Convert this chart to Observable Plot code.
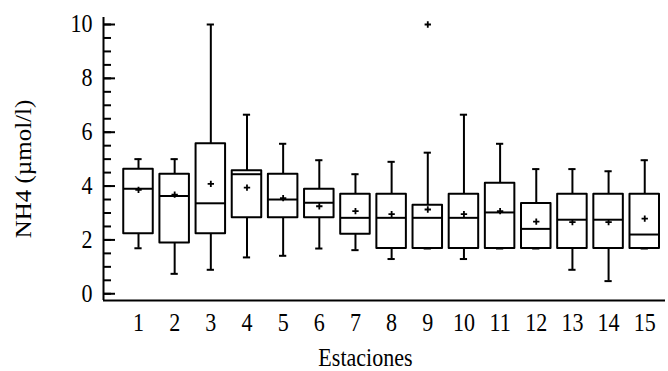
<!DOCTYPE html>
<html>
<head>
<meta charset="utf-8">
<script src="https://cdn.jsdelivr.net/npm/d3@7"></script>
<script src="https://cdn.jsdelivr.net/npm/@observablehq/plot@0.6"></script>
<style>
  html, body { margin: 0; padding: 0; background: #fff; }
  #chart svg { display: block; }
  #chart svg text { font-family: "Liberation Serif", serif; }
</style>
</head>
<body>
<div id="chart"></div>
<script>
// NH4 por estación: cuartiles, bigotes, media y valores atípicos
const estaciones = [1, 2, 3, 4, 5, 6, 7, 8, 9, 10, 11, 12, 13, 14, 15];
const bigoteInf  = [1.69, 0.74, 0.89, 1.35, 1.41, 1.68, 1.62, 1.29, 1.68, 1.29, 1.68, 1.68, 0.89, 0.47, 1.68];
const cuartil1   = [2.23, 1.89, 2.23, 2.82, 2.82, 2.82, 2.21, 1.68, 1.68, 1.68, 1.68, 1.68, 1.68, 1.68, 1.68];
const mediana    = [3.90, 3.63, 3.36, 4.44, 3.50, 3.38, 2.82, 2.82, 2.82, 2.82, 3.02, 2.41, 2.75, 2.75, 2.20];
const cuartil3   = [4.62, 4.44, 5.57, 4.57, 4.44, 3.88, 3.70, 3.70, 3.29, 3.70, 4.10, 3.35, 3.70, 3.70, 3.70];
const bigoteSup  = [5.00, 5.00, 10.0, 6.65, 5.57, 4.96, 4.44, 4.90, 5.24, 6.65, 5.57, 4.63, 4.63, 4.55, 4.96];
const media      = [3.86, 3.68, 4.08, 3.94, 3.55, 3.25, 3.07, 2.96, 3.13, 2.96, 3.07, 2.68, 2.66, 2.66, 2.79];
const atipicoEstacion = [9];
const atipicoValor    = [10.0];

const ticksY = [0, 2, 4, 6, 8, 10];
const ticksYMenores = d3.range(0, 10.01, 0.5);

const xDominio = [0.032, 15.574];
const yDominio = [-0.25, 10.26];
const medioAncho = 0.408;   // half box width, in station units
const medioTope = 0.1;      // half whisker-cap width

const filas = estaciones.map((e, i) => ({
  estacion: e,
  min: bigoteInf[i], q1: cuartil1[i], med: mediana[i],
  q3: cuartil3[i], max: bigoteSup[i], media: media[i]
}));
const atipicos = atipicoEstacion.map((e, i) => ({estacion: e, valor: atipicoValor[i]}));

const linea = {stroke: "black", strokeWidth: 2};

const chart = Plot.plot({
  width: 668,
  height: 371,
  marginLeft: 103,
  marginRight: 3,
  marginTop: 17,
  marginBottom: 71,
  style: "font-family: 'Liberation Serif', serif; font-size: 24.5px; color: black; background: white;",
  x: {type: "linear", domain: xDominio},
  y: {domain: yDominio},
  marks: [
    // frame lines
    Plot.ruleX([xDominio[0]], linea),
    Plot.ruleY([yDominio[0]], linea),
    // inward ticks on the y axis
    Plot.axisY({ticks: ticksYMenores, tickSize: -8, tickFormat: () => "", strokeWidth: 2, label: null}),
    Plot.axisY({ticks: ticksY, tickSize: -12, tickFormat: () => "", strokeWidth: 2, label: null}),
    Plot.axisY({ticks: ticksY, tickSize: 0, tickPadding: 11, fontSize: 24.5, label: null}),
    Plot.axisX({ticks: estaciones, tickSize: 0, tickPadding: 13, fontSize: 24.5, tickFormat: d => String(d), label: null}),
    // whiskers
    Plot.ruleX(filas, {x: "estacion", y1: "min", y2: "q1", ...linea}),
    Plot.ruleX(filas, {x: "estacion", y1: "q3", y2: "max", ...linea}),
    Plot.ruleY(filas, {y: "min", x1: d => d.estacion - medioTope, x2: d => d.estacion + medioTope, ...linea}),
    Plot.ruleY(filas, {y: "max", x1: d => d.estacion - medioTope, x2: d => d.estacion + medioTope, ...linea}),
    // boxes
    Plot.rect(filas, {x1: d => d.estacion - medioAncho, x2: d => d.estacion + medioAncho, y1: "q1", y2: "q3",
      fill: "none", stroke: "black", strokeWidth: 2, strokeLinejoin: "round"}),
    Plot.ruleY(filas, {y: "med", x1: d => d.estacion - medioAncho, x2: d => d.estacion + medioAncho, ...linea}),
    // means and outliers
    Plot.dot(filas, {x: "estacion", y: "media", symbol: "plus", r: 2.2, stroke: "black", strokeWidth: 1.8}),
    Plot.dot(atipicos, {x: "estacion", y: "valor", symbol: "plus", r: 2.2, stroke: "black", strokeWidth: 1.8}),
    // axis titles
    Plot.text(["Estaciones"], {frameAnchor: "bottom", textAnchor: "middle", dx: -19, dy: 47.6, lineAnchor: "top", fontSize: 24.5}),
    Plot.text(["NH4 (µmol/l)"], {frameAnchor: "left", textAnchor: "middle", rotate: -90, dx: -80, dy: 10, lineAnchor: "middle", fontSize: 25})
  ]
});

// Narrow the lettering horizontally (a condensed serif look), keeping each label's anchor in place
const estrecho = 0.9;
chart.querySelectorAll("text").forEach(t => {
  const tr = t.getAttribute("transform");
  if (tr && /translate\([^)]*\)/.test(tr)) {
    t.setAttribute("transform", tr.replace(/(translate\([^)]*\))/, `$1 scale(${estrecho},1)`));
  } else {
    const x = +(t.getAttribute("x") || 0);
    t.setAttribute("transform", `translate(${x},0) scale(${estrecho},1) translate(${-x},0)` + (tr ? " " + tr : ""));
  }
});

document.getElementById("chart").append(chart);
</script>
</body>
</html>
